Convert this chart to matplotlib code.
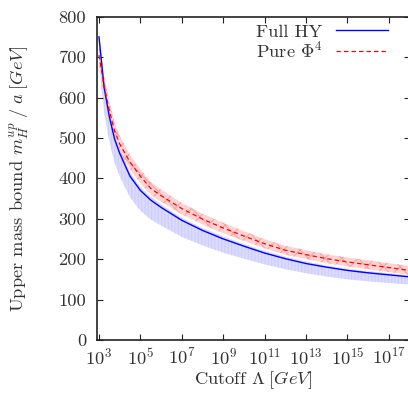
import numpy as np
import matplotlib
matplotlib.use("Agg")
import matplotlib.pyplot as plt

plt.rcParams['font.family'] = ['cmr10']
plt.rcParams['mathtext.fontset'] = 'cm'
plt.rcParams['axes.formatter.use_mathtext'] = True
plt.rcParams['hatch.linewidth'] = 0.8

# log10 of cutoff Lambda [GeV]
log_cutoff = [3.0, 3.25, 3.5, 3.75, 4.0, 4.5, 5.0, 5.5, 6.0, 7.0, 8.0, 9.0,
              10.0, 11.0, 12.0, 13.0, 14.0, 15.0, 16.0, 17.0, 18.0]

full_hy = [750, 625, 553, 498, 462, 405, 370, 346, 328, 296, 271, 250,
           232, 215, 201, 189, 180, 172, 166, 161, 156]
full_hy_lo = [685, 562, 492, 439, 405, 353, 320, 298, 283, 255, 234, 216,
              201, 187, 175, 165, 157, 150, 145, 141, 137]
full_hy_hi = [765, 640, 565, 508, 472, 414, 378, 354, 335, 302, 277, 256,
              237, 220, 206, 194, 184, 176, 170, 165, 160]

pure_phi4 = [705, 628, 568, 518, 485, 440, 405, 375, 357, 325, 299, 277,
             257, 238, 222, 211, 201, 193, 186, 179, 172]
pure_phi4_lo = [680, 603, 546, 497, 465, 422, 388, 359, 342, 311, 286, 264,
                245, 227, 211, 200, 190, 182, 175, 168, 161]
pure_phi4_hi = [730, 653, 590, 539, 505, 458, 422, 391, 372, 339, 312, 290,
                269, 249, 233, 222, 212, 204, 197, 190, 183]

xtick_exp = [3, 5, 7, 9, 11, 13, 15, 17]
yticks = [0, 100, 200, 300, 400, 500, 600, 700, 800]

cutoff = 10.0 ** np.array(log_cutoff)

W, H = 408, 397
fig = plt.figure(figsize=(W / 100, H / 100), dpi=100)
left_px, right_px, top_px, bot_px = 97.3, 409.5, 16.7, 339.9
ax = fig.add_axes([left_px / W, 1 - bot_px / H, (right_px - left_px) / W, (bot_px - top_px) / H])

# bands
ax.fill_between(cutoff, full_hy_lo, full_hy_hi, facecolor='#dbdbff',
                edgecolor='#cdcdfa', hatch='|||||', linewidth=0, zorder=1)
ax.fill_between(cutoff, pure_phi4_lo, pure_phi4_hi, facecolor='#ffcfcf',
                edgecolor='#ff9a9a', hatch='xx', linewidth=0, alpha=0.9, zorder=2)

ax.plot(cutoff, full_hy, color='#0000ff', lw=1.0, label='Full HY', zorder=3)
ax.plot(cutoff, pure_phi4, color='#ff0000', lw=0.9, ls=(0, (3.5, 2.5)),
        label=r'Pure $\Phi^4$', zorder=4)

ax.set_xscale('log')
ax.set_xlim(10 ** 2.92, 10 ** 18.0)
ax.set_ylim(0, 800)
ax.set_xticks([10.0 ** e for e in xtick_exp])
ax.set_xticklabels([r'$10^{%d}$' % e for e in xtick_exp])
ax.xaxis.set_minor_locator(matplotlib.ticker.NullLocator())
ax.set_yticks(yticks)
ax.set_yticklabels([str(v) for v in yticks])

ax.tick_params(which='both', direction='in', top=True, right=True,
               length=4, width=0.8, labelsize=13.3, colors='#222222',
               labelcolor='#333333')
ax.tick_params(axis='x', pad=5)
ax.tick_params(axis='y', pad=8)
for s in ax.spines.values():
    s.set_linewidth(1.2)
    s.set_color('#222222')

ax.set_xlabel(r'Cutoff $\Lambda\;[GeV]$', fontsize=13.3, color='#333333', labelpad=1)
ax.set_ylabel(r'Upper mass bound $m_H^{up}\;/\;a\;[GeV]$', fontsize=13.3,
              color='#333333', labelpad=19)

leg = ax.legend(loc='upper right', bbox_to_anchor=(0.967, 1.012), frameon=False,
                markerfirst=False, fontsize=13.3, handlelength=2.8,
                handletextpad=0.75, labelspacing=-0.02, borderaxespad=0.2)
for t in leg.get_texts():
    t.set_color('#333333')

fig.savefig('out.png', dpi=100)
